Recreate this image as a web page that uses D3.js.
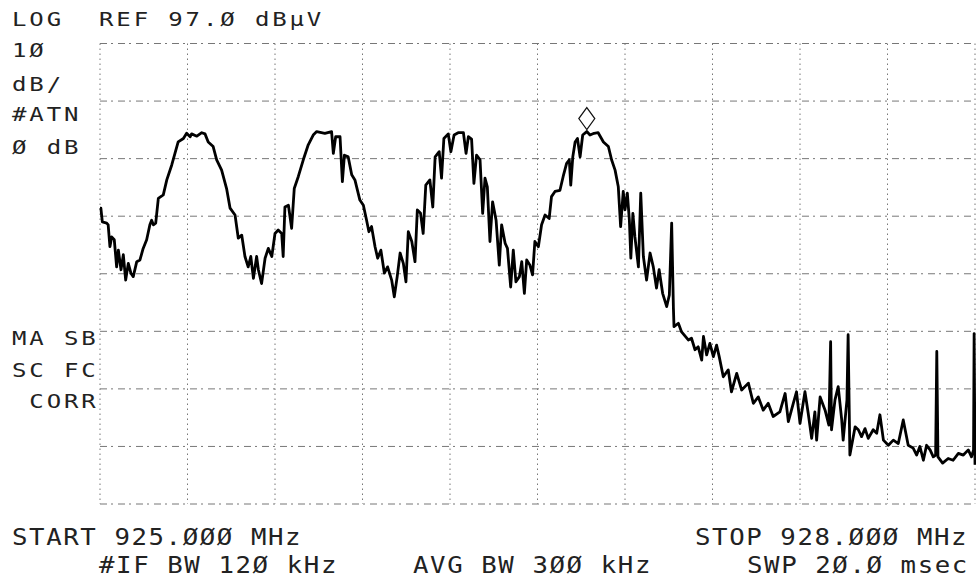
<!DOCTYPE html>
<html>
<head>
<meta charset="utf-8">
<script src="https://cdn.jsdelivr.net/npm/d3@7"></script>
<style>
  body { margin: 0; background: #fff; }
  svg { display: block; }
</style>
</head>
<body>
<div id="plot"></div>
<script>
var svg_width = 976;
var svg_height = 581;

// analyzer settings
var startMHz = 925.0, stopMHz = 928.0, xDivs = 10;
var refLevel = 97.0, dbPerDiv = 10, yDivs = 8;

// trace: frequency (MHz) and level (dBuV)
var freqMHz = [
  925.000, 925.003, 925.008, 925.023, 925.028, 925.034, 925.040, 925.049, 925.057, 925.063,
  925.072, 925.080, 925.088, 925.097, 925.106, 925.114, 925.126, 925.137, 925.148, 925.160,
  925.171, 925.177, 925.183, 925.191, 925.200, 925.217, 925.229, 925.246, 925.257, 925.268,
  925.286, 925.297, 925.309, 925.314, 925.332, 925.349, 925.360, 925.371, 925.388, 925.400,
  925.417, 925.434, 925.446, 925.463, 925.474, 925.486, 925.497, 925.508, 925.517, 925.526,
  925.537, 925.543, 925.554, 925.566, 925.577, 925.589, 925.600, 925.611, 925.623, 925.628,
  925.634, 925.646, 925.657, 925.666, 925.680, 925.697, 925.714, 925.731, 925.743, 925.771,
  925.794, 925.800, 925.808, 925.823, 925.831, 925.838, 925.851, 925.863, 925.874, 925.891,
  925.903, 925.914, 925.922, 925.931, 925.943, 925.952, 925.963, 925.975, 925.986, 926.000,
  926.009, 926.019, 926.029, 926.040, 926.049, 926.057, 926.069, 926.080, 926.088, 926.099,
  926.108, 926.117, 926.131, 926.141, 926.149, 926.163, 926.171, 926.179, 926.194, 926.203,
  926.214, 926.228, 926.246, 926.255, 926.263, 926.274, 926.282, 926.291, 926.303, 926.312,
  926.320, 926.328, 926.337, 926.346, 926.358, 926.369, 926.377, 926.389, 926.397, 926.408,
  926.417, 926.426, 926.438, 926.446, 926.455, 926.463, 926.474, 926.483, 926.491, 926.503,
  926.514, 926.526, 926.540, 926.548, 926.560, 926.577, 926.588, 926.600, 926.609, 926.614,
  926.621, 926.629, 926.637, 926.646, 926.655, 926.669, 926.680, 926.694, 926.708, 926.726,
  926.743, 926.754, 926.766, 926.777, 926.785, 926.794, 926.800, 926.808, 926.815, 926.820,
  926.827, 926.834, 926.846, 926.854, 926.863, 926.874, 926.886, 926.897, 926.908, 926.917,
  926.929, 926.943, 926.952, 926.960, 926.966, 926.968, 926.983, 926.994, 927.017, 927.028,
  927.040, 927.051, 927.063, 927.069, 927.080, 927.091, 927.103, 927.114, 927.123, 927.137,
  927.154, 927.165, 927.183, 927.200, 927.223, 927.240, 927.257, 927.274, 927.291, 927.308,
  927.331, 927.349, 927.360, 927.377, 927.388, 927.400, 927.417, 927.428, 927.440, 927.451,
  927.457, 927.469, 927.486, 927.499, 927.505, 927.508, 927.520, 927.531, 927.543, 927.548,
  927.561, 927.565, 927.571, 927.589, 927.600, 927.611, 927.623, 927.634, 927.651, 927.663,
  927.674, 927.686, 927.703, 927.720, 927.737, 927.754, 927.771, 927.788, 927.800, 927.811,
  927.823, 927.834, 927.846, 927.857, 927.865, 927.869, 927.873, 927.889, 927.908, 927.925,
  927.943, 927.960, 927.977, 927.988, 927.995, 927.997, 928.000
];
var levelDbuV = [
  68.4, 68.4, 66.0, 65.8, 65.5, 61.7, 63.4, 62.9, 58.2, 61.1,
  57.7, 60.3, 55.9, 58.8, 57.1, 56.5, 59.1, 59.4, 61.4, 62.9,
  65.5, 66.3, 65.5, 65.8, 70.1, 70.7, 73.3, 75.9, 77.9, 79.9,
  80.5, 81.4, 80.8, 81.3, 80.9, 81.5, 81.3, 79.9, 79.1, 76.8,
  75.0, 71.8, 68.4, 67.2, 63.2, 63.7, 60.0, 58.2, 60.0, 56.2,
  60.0, 57.7, 55.3, 59.7, 61.4, 60.0, 64.0, 64.6, 64.0, 60.0,
  68.6, 68.9, 64.9, 71.8, 73.9, 76.8, 79.4, 81.1, 81.7, 81.4,
  81.7, 77.9, 80.8, 80.8, 73.0, 77.6, 77.3, 74.2, 73.3, 69.8,
  68.9, 66.3, 64.3, 65.2, 61.7, 59.7, 61.1, 57.1, 58.2, 55.9,
  53.0, 56.5, 60.6, 58.8, 55.6, 64.3, 62.6, 59.1, 68.1, 67.5,
  64.0, 72.4, 73.3, 68.6, 77.3, 78.2, 73.6, 80.5, 81.3, 78.2,
  81.1, 81.5, 81.5, 77.9, 80.8, 80.4, 72.7, 77.6, 76.8, 67.5,
  73.6, 72.1, 62.6, 69.5, 66.3, 58.5, 65.5, 62.3, 61.4, 54.7,
  61.1, 55.6, 56.5, 59.1, 53.6, 59.4, 58.5, 56.8, 62.6, 61.7,
  65.5, 67.2, 66.6, 70.4, 71.3, 71.5, 73.9, 76.2, 76.8, 72.4,
  77.3, 79.9, 80.5, 77.3, 81.1, 81.7, 81.1, 81.4, 81.5, 79.9,
  79.1, 76.8, 75.0, 72.1, 65.2, 71.3, 68.1, 71.0, 66.3, 59.7,
  67.5, 63.4, 58.2, 71.0, 60.0, 55.9, 60.6, 58.2, 54.5, 57.7,
  53.6, 51.3, 53.3, 65.8, 51.0, 47.8, 48.4, 46.9, 45.5, 45.8,
  43.8, 44.3, 42.0, 46.1, 42.9, 44.9, 42.6, 44.6, 42.6, 39.1,
  40.3, 36.5, 39.7, 36.8, 38.0, 34.5, 35.6, 33.3, 34.5, 32.2,
  33.0, 36.2, 31.3, 34.5, 36.5, 31.0, 36.5, 32.8, 28.4, 33.0,
  28.1, 35.6, 33.3, 30.7, 45.2, 29.9, 35.1, 37.4, 31.6, 28.1,
  35.1, 46.4, 25.5, 30.4, 29.9, 28.7, 30.1, 28.4, 29.9, 29.3,
  32.5, 28.1, 27.2, 28.1, 27.5, 31.6, 27.2, 26.7, 25.5, 27.0,
  24.6, 27.2, 26.4, 25.2, 25.5, 43.5, 25.2, 24.1, 24.9, 24.6,
  25.8, 25.5, 26.4, 25.2, 26.4, 46.6, 23.8
];

// marker (diamond) on the 4th peak
var markerFreq = 926.669, markerLevel = 81.7;

// annotation texts
var headerTexts = [["LOG", 12, 26], ["REF 97.\u00D8 dB\u00B5V", 99, 26]];
var sideTexts = [
  ["1\u00D8", 12, 57], ["dB/", 12, 91], ["#ATN", 12, 121], ["\u00D8 dB", 12, 154],
  ["MA SB", 12, 345], ["SC FC", 12, 377], [" CORR", 12, 408]
];
var footerTexts = [
  ["START 925.\u00D8\u00D8\u00D8 MHz", 12, 545], ["STOP 928.\u00D8\u00D8\u00D8 MHz", 695, 545],
  ["#IF BW 12\u00D8 kHz", 99, 573], ["AVG BW 3\u00D8\u00D8 kHz", 413, 573], ["SWP 2\u00D8.\u00D8 msec", 747, 573]
];

var mysvg = d3.select("#plot")
  .append("svg")
  .attr("width", svg_width)
  .attr("height", svg_height);

var x = d3.scaleLinear().domain([startMHz, stopMHz]).range([100, 975]);
var y = d3.scaleLinear().domain([refLevel - yDivs*dbPerDiv, refLevel]).range([504, 43.5]);

// graticule - faint plotter dashes
var vx = d3.range(xDivs + 1).map(function(i){ return startMHz + i*(stopMHz-startMHz)/xDivs; });
var hy = d3.range(yDivs + 1).map(function(i){ return refLevel - i*dbPerDiv; });

mysvg.append("g").selectAll("line")
  .data(vx).enter().append("line")
  .attr("x1", function(d){ return x(d); }).attr("x2", function(d){ return x(d); })
  .attr("y1", y.range()[1]).attr("y2", y.range()[0])
  .attr("stroke", "#777").attr("stroke-width", 1)
  .attr("stroke-dasharray", "1.5,3.5");

mysvg.append("g").selectAll("line")
  .data(hy).enter().append("line")
  .attr("x1", x.range()[0]).attr("x2", x.range()[1])
  .attr("y1", function(d){ return y(d); }).attr("y2", function(d){ return y(d); })
  .attr("stroke", "#777").attr("stroke-width", 1)
  .attr("stroke-dasharray", "7,4,2,5");

// trace
var pts = freqMHz.map(function(f, i){ return [f, levelDbuV[i]]; });
var line = d3.line()
  .x(function(d){ return x(d[0]); })
  .y(function(d){ return y(d[1]); });

mysvg.append("path")
  .datum(pts)
  .attr("d", line)
  .attr("fill", "none")
  .attr("stroke", "#000")
  .attr("stroke-width", 2.8)
  .attr("stroke-linejoin", "round");

// marker diamond sits just above the trace point
var mx = x(markerFreq), my = y(markerLevel) - 2;
mysvg.append("path")
  .attr("d", "M" + mx + "," + my + " l8,-11 l-8,-11 l-8,11 z")
  .attr("fill", "none")
  .attr("stroke", "#111")
  .attr("stroke-width", 1.2);

// text, HP plotter style: wide monospaced
function addText(d, size, sx, ls){
  mysvg.append("text")
    .attr("transform", "translate(" + d[1] + "," + d[2] + ") scale(" + sx + ",1)")
    .attr("font-family", "DejaVu Sans Mono, monospace")
    .attr("font-size", size)
    .attr("letter-spacing", ls)
    .attr("fill", "#222")
    .style("white-space", "pre")
    .text(d[0]);
}
headerTexts.forEach(function(d){ addText(d, 20, 1.2, 2.4); });
sideTexts.forEach(function(d){ addText(d, 20, 1.2, 2.4); });
footerTexts.forEach(function(d){ addText(d, 23, 1.12, 1.4); });
</script>
</body>
</html>
